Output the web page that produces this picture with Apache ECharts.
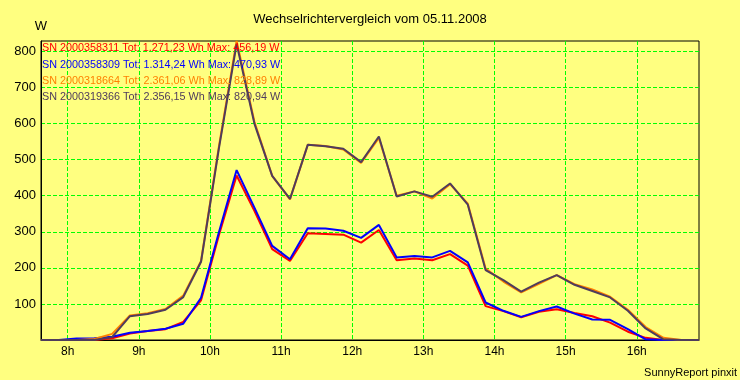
<!DOCTYPE html>
<html><head><meta charset="utf-8">
<script src="https://cdn.jsdelivr.net/npm/echarts@6/dist/echarts.min.js"></script>
<style>html,body{margin:0;padding:0;background:#ffff80}#c{width:740px;height:380px}</style>
</head><body><div id="c"></div>
<script>
// time of each sample, in hours (15-minute samples)
const times = [7.625,7.875,8.125,8.375,8.625,8.875,9.125,9.375,9.625,9.875,10.125,10.375,10.625,10.875,11.125,11.375,11.625,11.875,12.125,12.375,12.625,12.875,13.125,13.375,13.625,13.875,14.125,14.375,14.625,14.875,15.125,15.375,15.625,15.875,16.125,16.375,16.625,16.875];
const sn311 = [0,0,0,0,5,18,25,30,50,110,290,456,358,252,219,296,294,292,270,305,221,226,221,238,206,94,80,63,78,85,75,66,48,23,6,0,0,0];
const sn309 = [0,0,4,5,9,20,25,31,45,117,298,471,367,261,224,310,309,303,283,319,229,233,229,247,215,104,81,64,80,93,73,57,56,30,2,0,0,0];
const sn664 = [0,0,0,3,17,68,74,86,123,219,535,829,605,455,390,541,538,528,491,560,400,412,392,432,378,198,162,132,156,180,155,140,120,84,36,6,0,0];
const sn366 = [0,0,0,0,8,66,72,84,119,217,530,821,600,455,391,541,537,530,493,564,398,412,397,434,375,194,166,134,159,180,153,136,118,81,32,2,0,0];
const seriesNames = ['SN 2000358311','SN 2000358309','SN 2000318664','SN 2000319366'];
const legendTexts = [
  'SN 2000358311 Tot: 1.271,23 Wh Max: 456,19 W',
  'SN 2000358309 Tot: 1.314,24 Wh Max: 470,93 W',
  'SN 2000318664 Tot: 2.361,06 Wh Max: 828,89 W',
  'SN 2000319366 Tot: 2.356,15 Wh Max: 820,94 W'
];
const hourTicks = [8,9,10,11,12,13,14,15,16];
const hourLabels = ['8h','9h','10h','11h','12h','13h','14h','15h','16h'];
const yTicks = [100,200,300,400,500,600,700,800];
const yMax = 828.89;
const titleText = 'Wechselrichtervergleich vom 05.11.2008';
const footerText = 'SunnyReport pinxit';
const unitText = 'W';

const colors = ['#ff0000','#0000ff','#ff8000','#4f3c5c'];
const values = [sn311, sn309, sn664, sn366];
const FONT = 'Liberation Sans, Arial, sans-serif';

const chart = echarts.init(document.getElementById('c'), null, {renderer:'canvas'});
const gridL = 41, gridT = 41;
chart.setOption({
  backgroundColor: '#ffff80',
  animation: false,
  textStyle: {fontFamily: FONT},
  title: [
    {text: titleText, left: 'center', top: 13, padding: 0,
     textStyle: {fontSize: 13, fontWeight: 'normal', color: '#000', fontFamily: FONT}},
    {text: footerText, right: 3, bottom: 2, padding: 0,
     textStyle: {fontSize: 11, fontWeight: 'normal', color: '#000', fontFamily: FONT}}
  ],
  grid: {left: gridL, right: 41, top: gridT, bottom: 40, show: true,
         borderColor: '#000', borderWidth: 1, backgroundColor: 'transparent', containLabel: false},
  xAxis: {
    type: 'value', min: times[0], max: times[times.length-1],
    axisLine: {show: true, onZero: false, lineStyle: {color: '#000', width: 1}},
    axisTick: {show: false, customValues: hourTicks},
    axisLabel: {customValues: hourTicks, margin: 6, color: '#000', fontSize: 12, fontFamily: FONT,
      formatter: v => hourLabels[hourTicks.indexOf(Math.round(v))] || ''},
    splitLine: {show: true, lineStyle: {color: '#00ff00', type: [4,2], width: 1}}
  },
  yAxis: {
    type: 'value', min: 0, max: yMax,
    name: unitText, nameLocation: 'end', nameGap: 8,
    nameTextStyle: {color: '#000', fontSize: 13, fontFamily: FONT, align: 'center'},
    axisLine: {show: true, lineStyle: {color: '#000', width: 1}},
    axisTick: {show: false, customValues: yTicks},
    axisLabel: {customValues: yTicks, margin: 5, color: '#000', fontSize: 13, fontFamily: FONT},
    splitLine: {show: true, lineStyle: {color: '#00ff00', type: [4,2], width: 1}}
  },
  graphic: legendTexts.map((t, i) => ({
    type: 'text', left: gridL + 1, top: gridT + 2 + i * 16.2, z: 100,
    style: {text: t, fill: colors[i], font: '10.8px ' + FONT}
  })),
  series: values.map((v, i) => ({
    name: seriesNames[i], type: 'line', showSymbol: false, z: 2 + i,
    data: times.map((t, j) => [t, v[j]]),
    lineStyle: {color: colors[i], width: 2}, itemStyle: {color: colors[i]}
  }))
});
</script></body></html>
